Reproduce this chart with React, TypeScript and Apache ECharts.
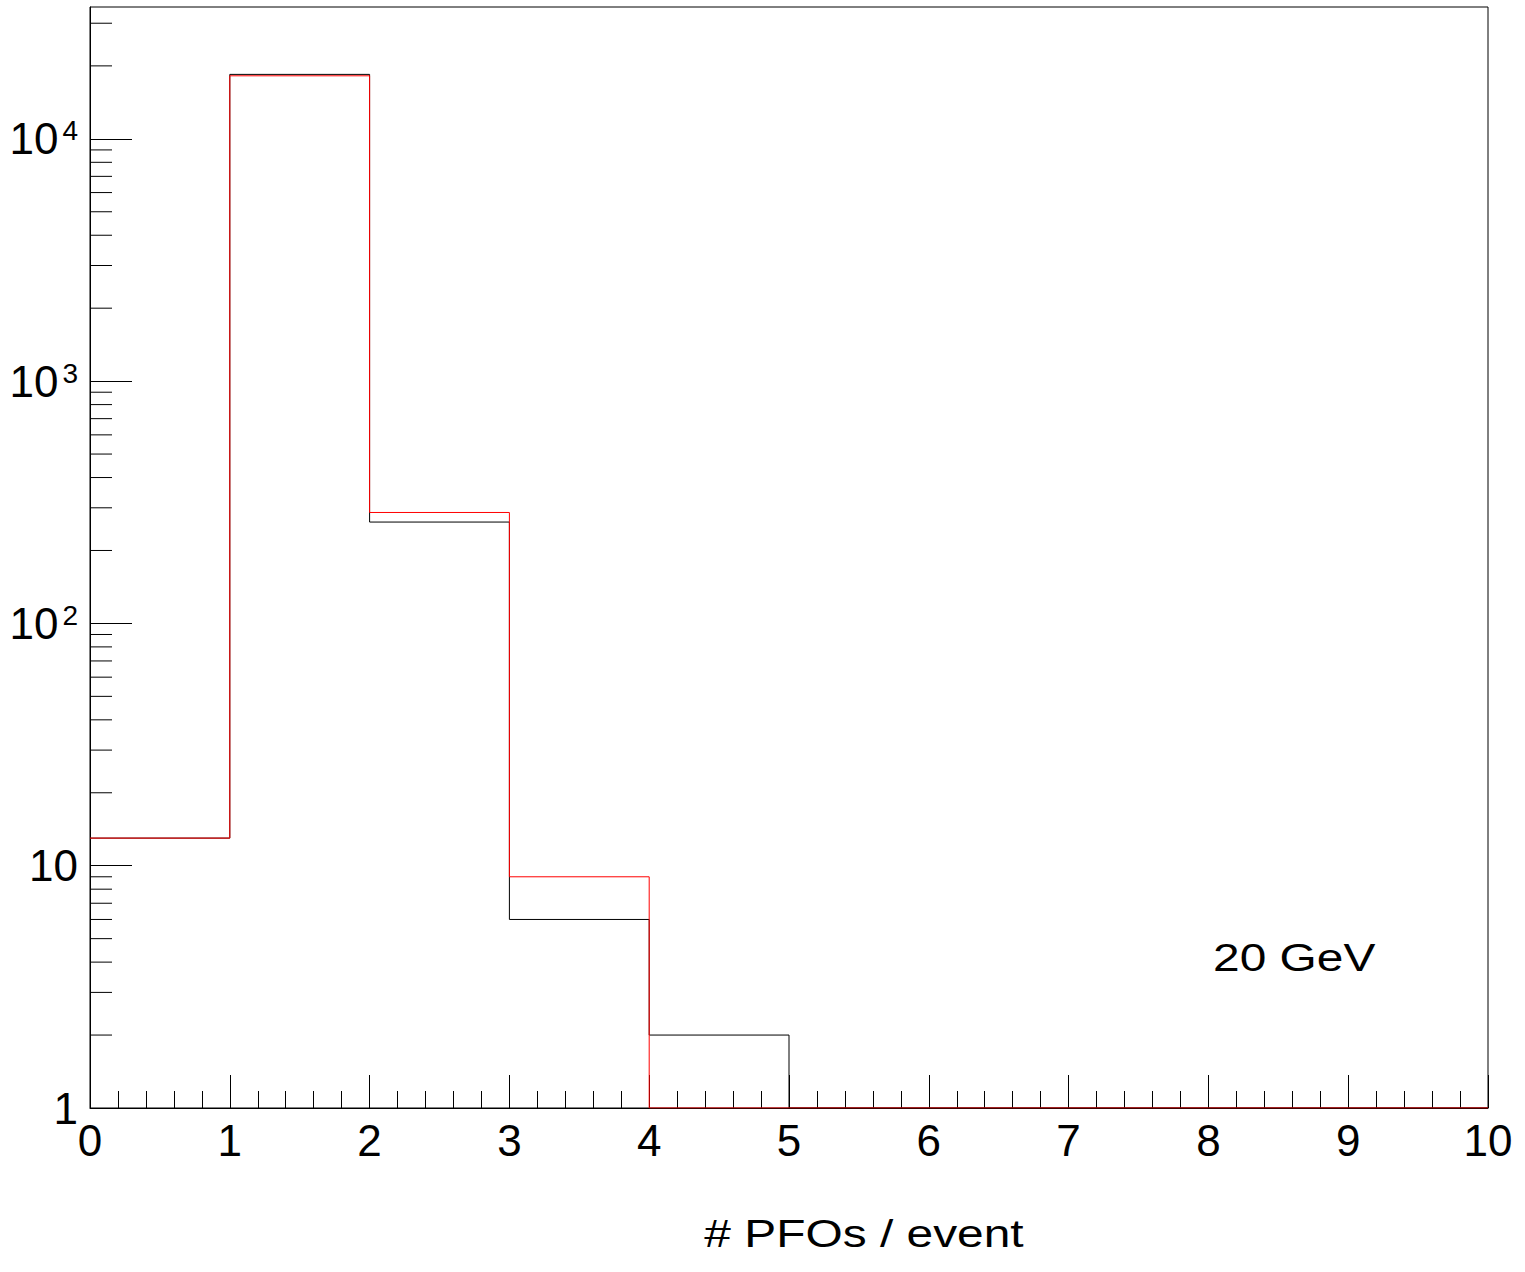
import React, { useEffect, useRef } from "react";
import * as echarts from "echarts";

// Histogram bin edges (# PFOs / event)
const binEdges = [0, 1, 2, 3, 4, 5, 6, 7, 8, 9, 10];
// Bin contents
const blackCounts = [13, 18450, 262, 6, 2, 0, 0, 0, 0, 0];
const redCounts = [13, 18200, 287, 9, 0, 0, 0, 0, 0, 0];
// Axis ranges
const xMin = 0;
const xMax = 10;
const yMin = 1;
const yMax = 35000;
const xTitle = "# PFOs / event";
const energyLabel = "20 GeV";

const FONT = "'Liberation Sans', Arial, Helvetica, sans-serif";

function stepPoints(counts: number[]): number[][] {
  const pts = counts.map((v, i) => [binEdges[i], Math.max(v, yMin)]);
  pts.push([binEdges[binEdges.length - 1], Math.max(counts[counts.length - 1], yMin)]);
  return pts;
}

function minorLogTicks(): number[][] {
  const out: number[][] = [];
  for (let k = 0; k <= 5; k++) {
    for (let m = 2; m <= 9; m++) {
      const v = m * Math.pow(10, k);
      if (v > yMin && v < yMax) out.push([xMin, v]);
    }
  }
  return out;
}

export default function App() {
  const ref = useRef<HTMLDivElement>(null);
  useEffect(() => {
    if (!ref.current) return;
    const chart = echarts.init(ref.current, undefined, { renderer: "svg" });
    const option: any = {
      animation: false,
      backgroundColor: "#ffffff",
      grid: {
        show: true,
        left: 90,
        top: 7,
        right: 37,
        bottom: 164,
        borderColor: "#000",
        borderWidth: 1,
        backgroundColor: "transparent",
      },
      xAxis: {
        type: "value",
        min: xMin,
        max: xMax,
        interval: 1,
        axisLine: { show: true, lineStyle: { color: "#000", width: 1 } },
        axisTick: { show: true, inside: true, length: 33, lineStyle: { color: "#000", width: 1 } },
        minorTick: { show: true, splitNumber: 5, length: 17, lineStyle: { color: "#000", width: 1 } },
        splitLine: { show: false },
        axisLabel: {
          color: "#000",
          fontSize: 44,
          fontFamily: FONT,
          margin: 10,
          showMinLabel: true,
          showMaxLabel: true,
        },
      },
      yAxis: {
        type: "log",
        logBase: 10,
        min: yMin,
        max: yMax,
        axisLine: { show: true, lineStyle: { color: "#000", width: 1 } },
        axisTick: { show: true, inside: true, length: 42, lineStyle: { color: "#000", width: 1 } },
        splitLine: { show: false },
        axisLabel: {
          color: "#000",
          fontSize: 44,
          fontFamily: FONT,
          margin: 12,
          showMaxLabel: false,
          formatter: (v: number) => {
            const e = Math.round(Math.log10(v));
            if (Math.abs(v - Math.pow(10, e)) > 1e-6 * v) return "";
            if (e === 0) return "1";
            if (e === 1) return "10";
            return `{b|10}{s|${e}}`;
          },
          rich: {
            b: { fontSize: 44, fontFamily: FONT, color: "#000" },
            s: {
              fontSize: 28,
              fontFamily: FONT,
              color: "#000",
              verticalAlign: "top",
              padding: [0, 0, 0, 4],
            },
          },
        },
      },
      series: [
        {
          type: "custom",
          silent: true,
          data: minorLogTicks(),
          renderItem: (params: any, api: any) => {
            const p = api.coord([api.value(0), api.value(1)]);
            return {
              type: "line",
              shape: { x1: p[0], y1: p[1], x2: p[0] + 22, y2: p[1] },
              style: { stroke: "#000", lineWidth: 1 },
            };
          },
          z: 1,
        },
        {
          type: "line",
          name: "black",
          step: "end",
          symbol: "none",
          silent: true,
          data: stepPoints(blackCounts),
          lineStyle: { color: "#000000", width: 1 },
          z: 2,
        },
        {
          type: "line",
          name: "red",
          step: "end",
          symbol: "none",
          silent: true,
          data: stepPoints(redCounts),
          lineStyle: { color: "#ff0000", width: 1 },
          z: 3,
        },
      ],
      graphic: [
        {
          type: "text",
          x: 1213,
          y: 958,
          scaleX: 1.26,
          style: {
            text: energyLabel,
            fontSize: 38,
            fontFamily: FONT,
            fill: "#000",
            textAlign: "left",
            textVerticalAlign: "middle",
          },
        },
        {
          type: "text",
          x: 864,
          y: 1234,
          scaleX: 1.26,
          style: {
            text: xTitle,
            fontSize: 38,
            fontFamily: FONT,
            fill: "#000",
            textAlign: "center",
            textVerticalAlign: "middle",
          },
        },
      ],
    };
    chart.setOption(option);
    return () => chart.dispose();
  }, []);
  return (
    <div
      ref={ref}
      style={{ position: "fixed", left: 0, top: 0, width: 1525, height: 1272, background: "#fff" }}
    />
  );
}
